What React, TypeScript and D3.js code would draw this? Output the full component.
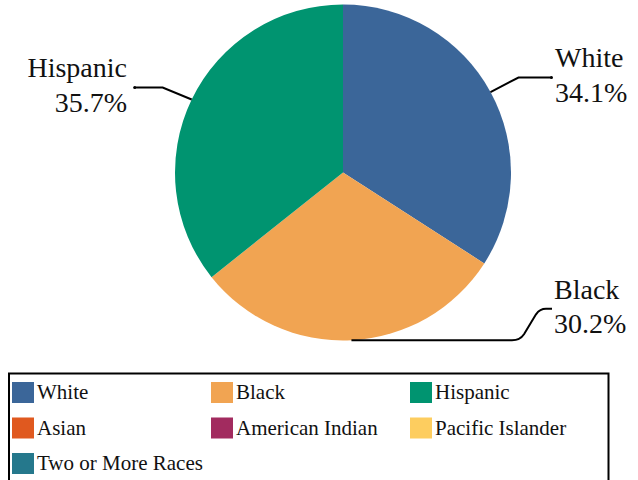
import React from "react";
import * as d3 from "d3";

const categories = ["White", "Black", "Hispanic", "Asian", "American Indian", "Pacific Islander", "Two or More Races"];
const values = [34.1, 30.2, 35.7, 0, 0, 0, 0];
const colors = ["#3b6699", "#f1a452", "#009470", "#e0591f", "#a22b5f", "#fdcd5f", "#25788c"];

const W = 638, H = 480;
const cx = 343, cy = 172.5, R = 168;
const FONT = 'Tinos, "Liberation Serif Regular", LiberationSerif, "Liberation Serif", "Noto Serif", "DejaVu Serif", "Times New Roman", serif';

export default function App() {
  const pie = d3.pie<number>().sort(null).value((d) => d)(values);
  const arc = d3.arc<d3.PieArcDatum<number>>().innerRadius(0).outerRadius(R);
  const edge = (a: d3.PieArcDatum<number>) => {
    const m = (a.startAngle + a.endAngle) / 2;
    return [cx + R * Math.sin(m), cy - R * Math.cos(m)];
  };
  const fmt = (v: number) => v.toFixed(1) + "%";

  const [wx, wy] = edge(pie[0]);
  const [bx, by] = edge(pie[1]);
  const [hx, hy] = edge(pie[2]);

  const legendCols = 3;
  const colW = 199;
  const rowH = 35.5;
  const ts = { fontFamily: FONT };

  return (
    <svg width={W} height={H} style={{ position: "absolute", left: 0, top: 0, background: "#fff", fontFamily: FONT }}>
      <g transform={`translate(${cx},${cy})`}>
        {pie.map((p, i) => p.value > 0 && (
          <path key={i} d={arc(p) || ""} fill={colors[i]} />
        ))}
      </g>
      {/* White label */}
      <path d={`M${wx},${wy} L${wx + 28},${wy - 14.5} H${wx + 61}`} fill="none" stroke="#000" strokeWidth={2} />
      <circle cx={wx + 61} cy={wy - 14.5} r={1.5} fill="#000" />
      <text style={ts} x={555} y={67} fontSize={28} fill="#111">{categories[0]}</text>
      <text style={ts} x={555} y={102} fontSize={28} fill="#111">{fmt(values[0])}</text>
      {/* Black label */}
      <path d={`M${bx},${by} H512 Q520,${by} 524,${by - 6} L536,${by - 26} Q540,${by - 31.5} 546,${by - 31.5} H552`}
        fill="none" stroke="#000" strokeWidth={2} />
      <text style={ts} x={554} y={299} fontSize={28} fill="#111">{categories[1]}</text>
      <text style={ts} x={554} y={333} fontSize={28} fill="#111">{fmt(values[1])}</text>
      {/* Hispanic label */}
      <path d={`M${hx},${hy} L${hx - 29},${hy - 12} H${hx - 57}`} fill="none" stroke="#000" strokeWidth={2} />
      <circle cx={hx - 57} cy={hy - 12} r={1.5} fill="#000" />
      <text style={ts} x={127} y={77} fontSize={28} textAnchor="end" fill="#111">{categories[2]}</text>
      <text style={ts} x={127} y={112} fontSize={28} textAnchor="end" fill="#111">{fmt(values[2])}</text>
      {/* Legend */}
      <rect x={9} y={373.5} width={599.5} height={120} fill="none" stroke="#000" strokeWidth={2} />
      {categories.map((c, i) => {
        const col = i % legendCols;
        const row = Math.floor(i / legendCols);
        const x = 12 + col * colW;
        const y = 382 + row * rowH;
        return (
          <g key={c}>
            <rect x={x} y={y} width={22} height={21} fill={colors[i]} />
            <text style={ts} x={x + 25} y={y + 17} fontSize={21} fill="#111">{c}</text>
          </g>
        );
      })}
    </svg>
  );
}
